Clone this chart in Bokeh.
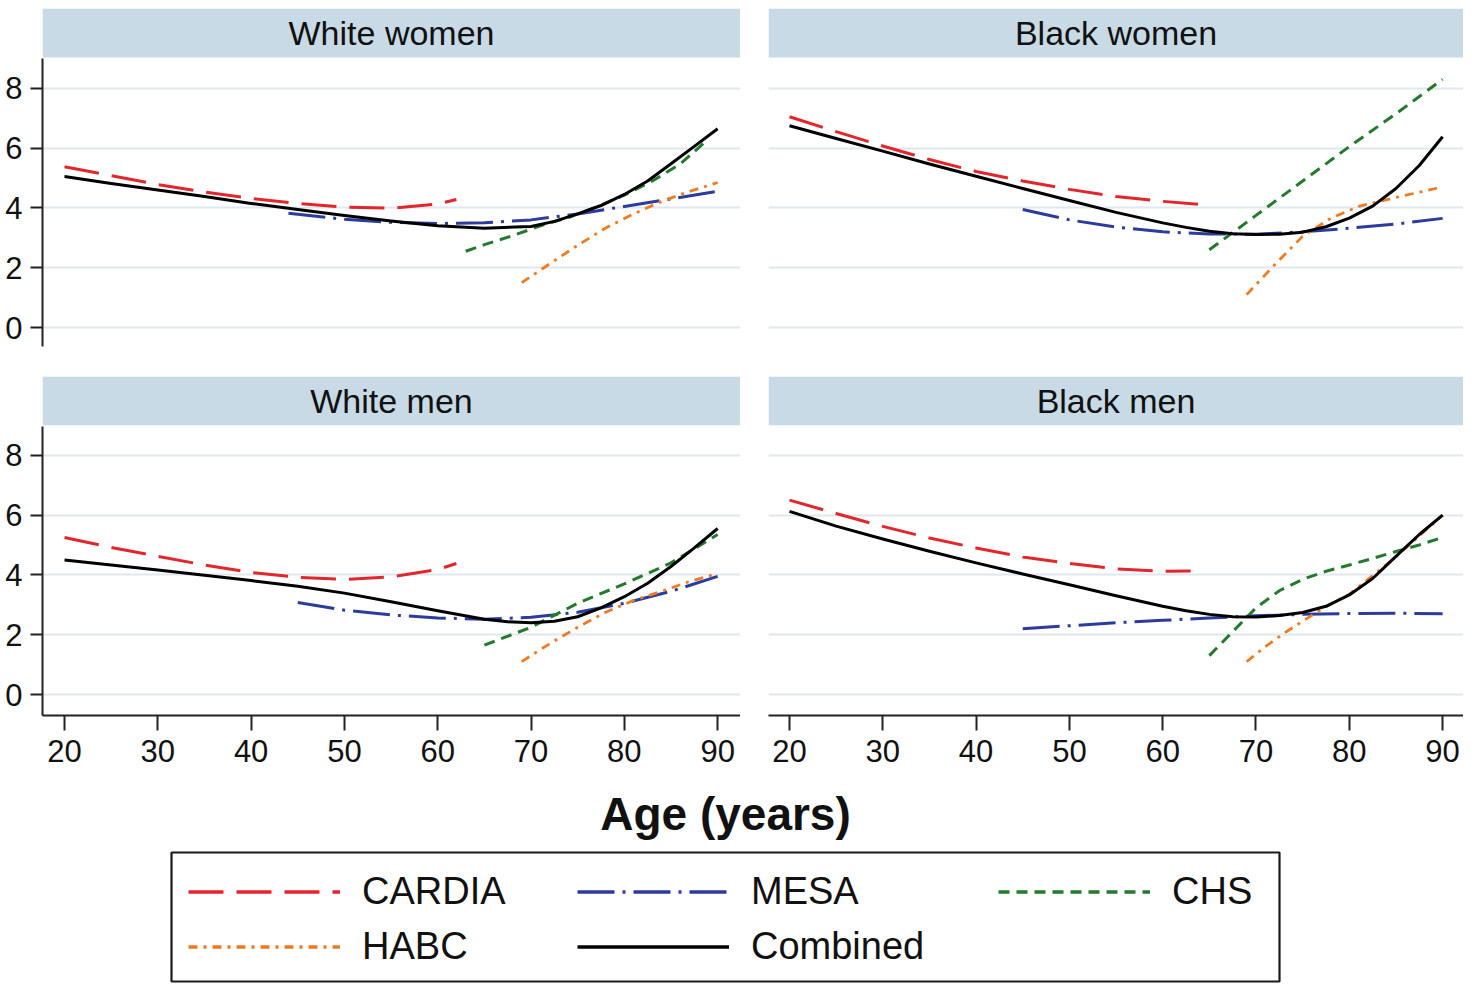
from bokeh.plotting import figure
from bokeh.layouts import column, row
from bokeh.models import (Range1d, FixedTicker, Grid, BoxAnnotation, Label,
                          Legend, LegendItem)
from bokeh.embed import file_html
from bokeh.resources import INLINE

FONT = "Liberation Sans"

# ---------------- data ----------------
PANELS = ["White women", "Black women", "White men", "Black men"]
STUDIES = ["CARDIA", "MESA", "CHS", "HABC", "Combined"]
X_TICKS = [20, 30, 40, 50, 60, 70, 80, 90]
Y_TICKS = [0, 2, 4, 6, 8]
X_TITLE = "Age (years)"

# White women
WW_CARDIA_AGE = [20, 25, 30, 35, 40, 45, 50, 55, 60, 62]
WW_CARDIA = [5.38, 5.08, 4.78, 4.53, 4.32, 4.15, 4.03, 3.99, 4.13, 4.28]
WW_MESA_AGE = [44, 50, 55, 60, 65, 70, 75, 80, 85, 90]
WW_MESA = [3.82, 3.62, 3.52, 3.48, 3.50, 3.60, 3.80, 4.05, 4.30, 4.56]
WW_CHS_AGE = [63, 65, 68, 71, 74, 77, 80, 83, 86, 89]
WW_CHS = [2.55, 2.77, 3.07, 3.40, 3.68, 4.03, 4.43, 4.90, 5.47, 6.30]
WW_HABC_AGE = [69, 72, 75, 78, 81, 84, 87, 90]
WW_HABC = [1.50, 2.13, 2.75, 3.33, 3.80, 4.22, 4.55, 4.85]
WW_COMB_AGE = [20, 25, 30, 35, 40, 45, 50, 55, 60, 65, 70, 72.5, 75, 77.5, 80, 82.5, 85, 87.5, 90]
WW_COMB = [5.05, 4.82, 4.60, 4.38, 4.15, 3.95, 3.75, 3.56, 3.40, 3.32, 3.38, 3.55, 3.80, 4.08, 4.45, 4.90, 5.48, 6.06, 6.65]

# Black women
BW_CARDIA_AGE = [20, 25, 30, 35, 40, 45, 50, 55, 60, 64]
BW_CARDIA = [7.05, 6.55, 6.07, 5.62, 5.22, 4.90, 4.62, 4.38, 4.22, 4.12]
BW_MESA_AGE = [45, 50, 55, 60, 65, 70, 75, 80, 85, 90]
BW_MESA = [3.95, 3.60, 3.36, 3.20, 3.13, 3.12, 3.20, 3.32, 3.46, 3.65]
BW_CHS_AGE = [65, 70, 75, 80, 85, 90]
BW_CHS = [2.60, 3.75, 4.90, 6.05, 7.15, 8.30]
BW_HABC_AGE = [69, 72, 75, 78, 81, 85, 90]
BW_HABC = [1.10, 2.10, 3.05, 3.65, 4.05, 4.35, 4.70]
BW_COMB_AGE = [20, 25, 30, 35, 40, 45, 50, 55, 60, 62.5, 65, 67.5, 70, 72.5, 75, 77.5, 80, 82.5, 85, 87.5, 90]
BW_COMB = [6.75, 6.32, 5.90, 5.47, 5.06, 4.65, 4.25, 3.85, 3.50, 3.35, 3.22, 3.14, 3.11, 3.12, 3.19, 3.37, 3.66, 4.06, 4.65, 5.42, 6.38]

# White men
WM_CARDIA_AGE = [20, 25, 30, 35, 40, 45, 50, 55, 60, 62]
WM_CARDIA = [5.25, 4.92, 4.62, 4.33, 4.08, 3.92, 3.85, 3.93, 4.18, 4.38]
WM_MESA_AGE = [45, 50, 55, 60, 65, 70, 75, 80, 85, 90]
WM_MESA = [3.08, 2.82, 2.66, 2.56, 2.52, 2.58, 2.75, 3.05, 3.45, 3.95]
WM_CHS_AGE = [65, 70, 75, 80, 85, 90]
WM_CHS = [1.65, 2.25, 3.05, 3.70, 4.40, 5.35]
WM_HABC_AGE = [69, 72, 75, 78, 81, 84, 87, 90]
WM_HABC = [1.10, 1.70, 2.25, 2.75, 3.15, 3.45, 3.78, 4.05]
WM_COMB_AGE = [20, 25, 30, 35, 40, 45, 50, 55, 60, 65, 67.5, 70, 72.5, 75, 77.5, 80, 82.5, 85, 87.5, 90]
WM_COMB = [4.50, 4.33, 4.16, 3.99, 3.81, 3.62, 3.39, 3.10, 2.80, 2.52, 2.43, 2.40, 2.45, 2.60, 2.90, 3.27, 3.72, 4.28, 4.90, 5.55]

# Black men
BM_CARDIA_AGE = [20, 25, 30, 35, 40, 45, 50, 55, 60, 63]
BM_CARDIA = [6.50, 6.05, 5.62, 5.23, 4.90, 4.60, 4.38, 4.20, 4.12, 4.13]
BM_MESA_AGE = [45, 50, 55, 60, 65, 70, 75, 80, 85, 90]
BM_MESA = [2.20, 2.30, 2.40, 2.48, 2.56, 2.63, 2.68, 2.71, 2.72, 2.70]
BM_CHS_AGE = [65, 67.5, 70, 72.5, 75, 77.5, 80, 82.5, 85, 87.5, 90]
BM_CHS = [1.30, 2.10, 2.90, 3.47, 3.85, 4.12, 4.33, 4.55, 4.78, 5.00, 5.25]
BM_HABC_AGE = [69, 71, 73, 75, 77, 80, 85, 90]
BM_HABC = [1.10, 1.60, 2.05, 2.45, 2.85, 3.35, 4.60, 6.00]
BM_COMB_AGE = [20, 25, 30, 35, 40, 45, 50, 55, 60, 62.5, 65, 67.5, 70, 72.5, 75, 77.5, 80, 82.5, 85, 87.5, 90]
BM_COMB = [6.12, 5.63, 5.20, 4.79, 4.40, 4.03, 3.67, 3.30, 2.95, 2.80, 2.68, 2.60, 2.59, 2.64, 2.74, 2.95, 3.33, 3.88, 4.62, 5.35, 6.00]

DATA = {
    "White women": {"CARDIA": (WW_CARDIA_AGE, WW_CARDIA), "MESA": (WW_MESA_AGE, WW_MESA),
                    "CHS": (WW_CHS_AGE, WW_CHS), "HABC": (WW_HABC_AGE, WW_HABC),
                    "Combined": (WW_COMB_AGE, WW_COMB)},
    "Black women": {"CARDIA": (BW_CARDIA_AGE, BW_CARDIA), "MESA": (BW_MESA_AGE, BW_MESA),
                    "CHS": (BW_CHS_AGE, BW_CHS), "HABC": (BW_HABC_AGE, BW_HABC),
                    "Combined": (BW_COMB_AGE, BW_COMB)},
    "White men": {"CARDIA": (WM_CARDIA_AGE, WM_CARDIA), "MESA": (WM_MESA_AGE, WM_MESA),
                  "CHS": (WM_CHS_AGE, WM_CHS), "HABC": (WM_HABC_AGE, WM_HABC),
                  "Combined": (WM_COMB_AGE, WM_COMB)},
    "Black men": {"CARDIA": (BM_CARDIA_AGE, BM_CARDIA), "MESA": (BM_MESA_AGE, BM_MESA),
                  "CHS": (BM_CHS_AGE, BM_CHS), "HABC": (BM_HABC_AGE, BM_HABC),
                  "Combined": (BM_COMB_AGE, BM_COMB)},
}

# ---------------- styles ----------------
COLORS = {"CARDIA": "#e2262b", "MESA": "#2b3c9d", "CHS": "#237a2d",
          "HABC": "#ef7a22", "Combined": "#000000"}
DASHES = {"CARDIA": "35 13", "MESA": "37 8 3 8", "CHS": "11 7",
          "HABC": "9 6 3 6", "Combined": "solid"}
WIDTHS = {"CARDIA": 3, "MESA": 3, "CHS": 3, "HABC": 2.8, "Combined": 3}
DRAW_ORDER = ["CARDIA", "MESA", "CHS", "HABC", "Combined"]
LEGEND_COLUMNS = [["CARDIA", "HABC"], ["MESA", "Combined"], ["CHS"]]

HEADER_COLOR = "#c8dae6"
GRID_COLOR = "#e0e8ef"
AXIS_COLOR = "#222222"
TEXT_COLOR = "#111111"


def style_axis(ax, ticks):
    ax.ticker = FixedTicker(ticks=ticks)
    ax.axis_line_color = AXIS_COLOR
    ax.axis_line_width = 2
    ax.major_tick_line_color = AXIS_COLOR
    ax.major_tick_line_width = 2
    ax.major_tick_in = 0
    ax.minor_tick_in = 0
    ax.minor_tick_out = 0
    ax.major_label_text_font = FONT
    ax.major_label_text_font_size = "31px"
    ax.major_label_text_color = TEXT_COLOR


def make_panel(title, xr, yr, header_bottom, width, height,
               left_axis, bottom_axis, border_left, border_top, border_bottom):
    p = figure(width=width, height=height,
               x_range=Range1d(*xr), y_range=Range1d(*yr),
               output_backend="svg", toolbar_location=None,
               x_axis_location="below" if bottom_axis else None,
               y_axis_location="left" if left_axis else None,
               min_border_left=border_left, min_border_right=0,
               min_border_top=border_top, min_border_bottom=border_bottom)
    p.outline_line_color = None
    p.background_fill_color = "white"
    p.border_fill_color = "white"
    for g in p.xgrid:
        g.visible = False
    for g in p.ygrid:
        g.visible = False
    p.add_layout(Grid(dimension=1, ticker=FixedTicker(ticks=Y_TICKS),
                      grid_line_color=GRID_COLOR, grid_line_width=2))
    if left_axis:
        ax = p.yaxis[0]
        style_axis(ax, Y_TICKS)
        ax.major_tick_out = 12
        ax.major_label_standoff = 8
        ax.bounds = (yr[0], header_bottom - 0.03)
    if bottom_axis:
        ax = p.xaxis[0]
        style_axis(ax, X_TICKS)
        ax.major_tick_out = 15
        ax.major_label_standoff = 9

    for s in DRAW_ORDER:
        xs, ys = DATA[title][s]
        p.line(xs, ys, line_color=COLORS[s], line_width=WIDTHS[s],
               line_dash=DASHES[s], line_cap="butt", line_join="round")

    p.add_layout(BoxAnnotation(bottom=header_bottom, fill_color=HEADER_COLOR,
                               fill_alpha=1, line_color=None))
    p.add_layout(Label(x=(xr[0] + xr[1]) / 2, y=(header_bottom + yr[1]) / 2,
                       text=title, text_align="center", text_baseline="middle",
                       text_font=FONT, text_font_size="34px",
                       text_color=TEXT_COLOR))
    return p


XR_LEFT = (17.64, 92.45)
XR_RIGHT = (17.75, 92.24)
YR_TOP = (-0.635, 10.67)
YR_BOT = (-0.70, 10.63)
HDR_TOP = 9.03
HDR_BOT = 9.0

tl = make_panel(PANELS[0], XR_LEFT, YR_TOP, HDR_TOP, 740, 376, True, False, 42, 8, 30)
tr = make_panel(PANELS[1], XR_RIGHT, YR_TOP, HDR_TOP, 723, 376, False, False, 28, 8, 30)
bl = make_panel(PANELS[2], XR_LEFT, YR_BOT, HDR_BOT, 740, 399, True, True, 42, 0, 60)
br = make_panel(PANELS[3], XR_RIGHT, YR_BOT, HDR_BOT, 723, 399, False, True, 28, 0, 60)

# ---------------- legend + shared x title (1 data unit = 1 px) ----------------
LW, LH = 1463, 208
lf = figure(width=LW, height=LH, x_range=Range1d(0, LW), y_range=Range1d(0, LH),
            output_backend="svg", toolbar_location=None,
            x_axis_location=None, y_axis_location=None, min_border=0)
lf.outline_line_color = None
for g in lf.xgrid:
    g.visible = False
for g in lf.ygrid:
    g.visible = False

# legend frame
lf.add_layout(BoxAnnotation(left=171, right=1279, bottom=2, top=131,
                            fill_alpha=0, line_color="#1a1a1a",
                            line_alpha=1, line_width=2.2))

renderers = {}
for s in STUDIES:
    renderers[s] = lf.line(x=[-100, -90], y=[-100, -100], line_color=COLORS[s],
                           line_width=WIDTHS[s] + 0.5, line_dash=DASHES[s],
                           line_cap="butt")

col_x = [188, 577, 998]
for cx, names in zip(col_x, LEGEND_COLUMNS):
    leg = Legend(items=[LegendItem(label=n, renderers=[renderers[n]]) for n in names],
                 orientation="vertical",
                 location=(cx, 9 if len(names) == 2 else 64),
                 glyph_width=152, glyph_height=55, label_height=55,
                 label_standoff=22, spacing=0, padding=0, margin=0,
                 border_line_color=None, background_fill_alpha=0,
                 label_text_font=FONT, label_text_font_size="38px",
                 label_text_color=TEXT_COLOR)
    lf.add_layout(leg)

lf.add_layout(Label(x=725, y=LH - (813 - 775), text=X_TITLE,
                    text_align="center", text_baseline="middle",
                    text_font=FONT, text_font_style="bold", text_font_size="46px",
                    text_color=TEXT_COLOR))

layout = column(row(tl, tr), row(bl, br), lf)

open("out.html", "w").write(file_html(layout, INLINE))
